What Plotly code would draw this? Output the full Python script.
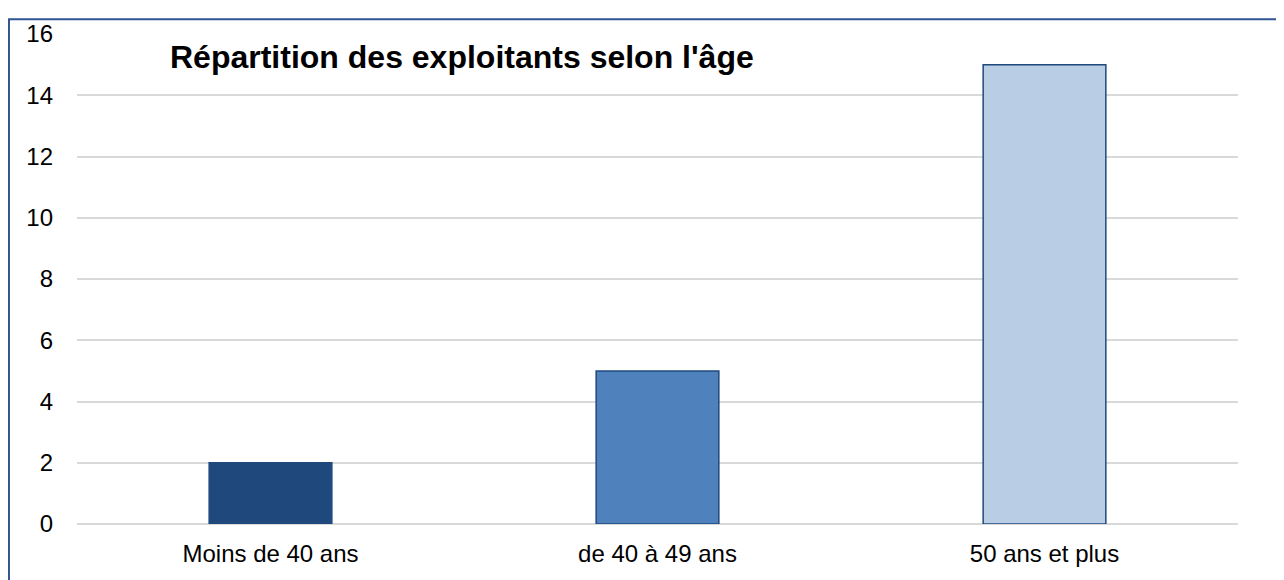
import plotly.graph_objects as go

# Données
categories = ["Moins de 40 ans", "de 40 à 49 ans", "50 ans et plus"]
nb_exploitants = [2, 5, 15]
bar_colors = ["#1F497D", "#4F81BD", "#B9CDE5"]
y_ticks = [0, 2, 4, 6, 8, 10, 12, 14, 16]

fig = go.Figure()
fig.add_trace(go.Bar(
    x=categories,
    y=nb_exploitants,
    marker=dict(color=bar_colors, line=dict(color="#1F497D", width=1.5)),
    width=0.317,
))

fig.update_layout(
    width=1284,
    height=580,
    margin=dict(l=69, r=54, t=17, b=64),
    plot_bgcolor="white",
    paper_bgcolor="white",
    font=dict(family="Liberation Sans, Arial", color="black", size=24),
    showlegend=False,
    xaxis=dict(showgrid=False, showline=False, ticks="",
               ticklabelstandoff=13, tickfont=dict(size=24)),
    yaxis=dict(
        range=[0, 16],
        tickvals=y_ticks,
        showgrid=True,
        gridcolor="#D9D9D9",
        gridwidth=1.5,
        zeroline=True,
        zerolinecolor="#D9D9D9",
        zerolinewidth=1.5,
        ticklabelstandoff=23,
        tickfont=dict(size=24),
    ),
)

# Titre dans la zone du graphique
fig.add_annotation(
    text="<b>Répartition des exploitants selon l'âge</b>",
    xref="paper", yref="paper",
    x=0.078, y=0.953,
    xanchor="left", yanchor="middle",
    showarrow=False,
    font=dict(size=32, color="black"),
)

# Cadre du graphique (coupé à droite et en bas)
fig.add_shape(
    type="rect", xref="paper", yref="paper",
    x0=-0.0586, y0=-0.3, x1=1.2, y1=1.030,
    line=dict(color="#2F5597", width=2),
    layer="below",
)

fig.write_html("out.html")
